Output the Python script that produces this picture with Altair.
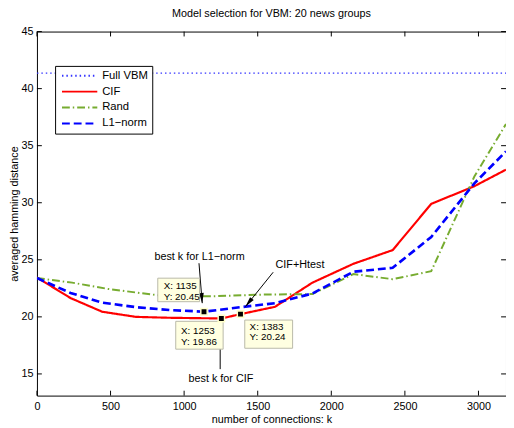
import math
import altair as alt
import pandas as pd

FONT = "Liberation Sans"

# ---------------- data ----------------
series_names = ["Full VBM", "CIF", "Rand", "L1−norm"]

vbm_k = [0, 3187]
vbm_d = [41.36, 41.36]

cif_k = [0, 228, 443, 672, 900, 1135, 1253, 1383, 1617, 1872, 2150, 2417, 2679, 2972, 3187]
cif_d = [23.45, 21.65, 20.45, 20.0, 19.92, 19.88, 19.86, 20.24, 20.88, 23.0, 24.65, 25.85, 29.9, 31.45, 32.9]

rand_k = [0, 239, 483, 817, 1183, 1528, 1872, 2150, 2417, 2679, 2972, 3187]
rand_d = [23.4, 23.0, 22.45, 21.9, 21.8, 21.95, 22.0, 23.75, 23.3, 24.0, 32.3, 36.9]

l1_k = [0, 228, 443, 672, 900, 1135, 1383, 1617, 1872, 2150, 2417, 2679, 2972, 3187]
l1_d = [23.4, 22.1, 21.25, 20.85, 20.6, 20.45, 20.85, 21.2, 22.05, 23.95, 24.3, 27.0, 31.7, 34.5]

x_ticks = [0, 500, 1000, 1500, 2000, 2500, 3000]
y_ticks = [15, 20, 25, 30, 35, 40, 45]

# data tips (selected points)
tip_k = [1135, 1253, 1383]
tip_d = [20.45, 19.86, 20.24]
tip_line1 = ["X: 1135", "X: 1253", "X: 1383"]
tip_line2 = ["Y: 20.45", "Y: 19.86", "Y: 20.24"]

# annotation placement (data units)
box_k1 = [821, 943, 1412]
box_k2 = [1105, 1265, 1737]
box_d1 = [23.39, 19.61, 19.72]
box_d2 = [21.33, 17.17, 17.25]
boxtext_k = [861, 979, 1445]
boxtext_d1 = [22.67, 18.75, 19.09]
boxtext_d2 = [21.76, 17.80, 18.23]

ann_text = ["best k for L1−norm", "best k for CIF", "CIF+Htest"]
ann_k = [1105, 1250, 1787]
ann_d = [25.2, 14.56, 24.5]
arrow_k_from = [1101, 1245, 1605]
arrow_d_from = [24.7, 15.42, 23.91]
arrow_k_to = [1123, 1245, 1417]
arrow_d_to = [21.2, 19.3, 20.9]

# ---------------- layout ----------------
W, H = 478, 371
XMAX = 3187
YMIN, YMAX = 13.1, 45

colors = ["#3333ff", "#ff0000", "#77ac30", "#0000ff"]
dashes = [[1.5, 3], [1, 0], [8, 3, 1.5, 3], [8, 4]]
widths = {"Full VBM": 1.2, "CIF": 2.2, "Rand": 2.0, "L1−norm": 2.7}

rows = []
for name, ks, ds in [("Full VBM", vbm_k, vbm_d), ("CIF", cif_k, cif_d),
                     ("Rand", rand_k, rand_d), ("L1−norm", l1_k, l1_d)]:
    for i, (k, d) in enumerate(zip(ks, ds)):
        rows.append({"series": name, "k": k, "d": d, "idx": i, "w": widths[name]})
df = pd.DataFrame(rows)

xs = alt.Scale(domain=[0, XMAX], nice=False, zero=False)
ys = alt.Scale(domain=[YMIN, YMAX], nice=False, zero=False)

xaxis = alt.Axis(values=x_ticks, format="d", ticks=False, domain=False, grid=False,
                 labelPadding=5, titlePadding=2, labelFlush=False,
                 titleFontWeight="normal")
yaxis = alt.Axis(values=y_ticks, format="d", ticks=False, domain=False, grid=False,
                 labelPadding=4, titlePadding=2, labelFlush=False,
                 titleFontWeight="normal")

X = alt.X("k:Q", scale=xs, axis=xaxis, title="number of connections: k")
Y = alt.Y("d:Q", scale=ys, axis=yaxis, title="averaged hamming distance")

leg = alt.Legend(title=None, orient="none", legendX=18.5, legendY=35,
                 fillColor="white", strokeColor="black", padding=4,
                 symbolType="stroke", symbolSize=1296, clipHeight=12,
                 rowPadding=4.2, symbolOffset=2, labelOffset=4,
                 symbolStrokeWidth=2,
                 labelFont=FONT, labelFontSize=11.5, labelColor="black")

lines = alt.Chart(df).mark_line(clip=True, strokeCap="butt").encode(
    x=X, y=Y,
    color=alt.Color("series:N", scale=alt.Scale(domain=series_names, range=colors), legend=leg),
    strokeDash=alt.StrokeDash("series:N", scale=alt.Scale(domain=series_names, range=dashes), legend=leg),
    strokeWidth=alt.StrokeWidth("w:Q", scale=None, legend=None),
    order="idx:Q",
)

# inward tick marks (box on)
xt = pd.DataFrame({"k": x_ticks})
yt = pd.DataFrame({"d": y_ticks})
tick_bottom = alt.Chart(xt).mark_rule(color="black", strokeWidth=1).encode(
    x=X, y=alt.value(H), y2=alt.value(H - 5))
tick_top = alt.Chart(xt).mark_rule(color="black", strokeWidth=1).encode(
    x=X, y=alt.value(0), y2=alt.value(5))
tick_left = alt.Chart(yt).mark_rule(color="black", strokeWidth=1).encode(
    y=Y, x=alt.value(0), x2=alt.value(5))
tick_right = alt.Chart(yt).mark_rule(color="black", strokeWidth=1).encode(
    y=Y, x=alt.value(W), x2=alt.value(W - 5))

# data-tip boxes
boxes_df = pd.DataFrame({"k": box_k1, "k2": box_k2, "d": box_d1, "d2": box_d2})
boxes = alt.Chart(boxes_df).mark_rect(fill="#ffffe1", stroke="#b9b9a8", strokeWidth=1).encode(
    x=X, x2="k2:Q", y=Y, y2="d2:Q")

bt_rows = []
for i in range(3):
    bt_rows.append({"k": boxtext_k[i], "d": boxtext_d1[i], "t": tip_line1[i]})
    bt_rows.append({"k": boxtext_k[i], "d": boxtext_d2[i], "t": tip_line2[i]})
boxtext = alt.Chart(pd.DataFrame(bt_rows)).mark_text(
    align="left", baseline="middle", font=FONT, fontSize=10, color="black").encode(
    x=X, y=Y, text="t:N")

markers = alt.Chart(pd.DataFrame({"k": tip_k, "d": tip_d})).mark_point(
    shape="square", filled=True, size=42, fill="black", stroke="#ffffc8",
    strokeWidth=1.5, opacity=1).encode(x=X, y=Y)

# arrows
px_per_k = W / XMAX
px_per_d = H / (YMAX - YMIN)
angs = []
for i in range(3):
    dx = (arrow_k_to[i] - arrow_k_from[i]) * px_per_k
    dy = -(arrow_d_to[i] - arrow_d_from[i]) * px_per_d  # screen y (down)
    angs.append(math.degrees(math.atan2(dx, -dy)) % 360)

arr_df = pd.DataFrame({"k": arrow_k_from, "d": arrow_d_from,
                       "k2": arrow_k_to, "d2": arrow_d_to, "ang": angs})
shafts = alt.Chart(arr_df).mark_rule(color="black", strokeWidth=1).encode(
    x=X, y=Y, x2="k2:Q", y2="d2:Q")
heads = alt.Chart(pd.DataFrame({"k": arrow_k_to, "d": arrow_d_to, "ang": angs})).mark_point(
    shape="M0,0L-0.6,2.6L0.6,2.6Z", filled=True, color="black", size=64, opacity=1).encode(
    x=X, y=Y, angle=alt.Angle("ang:Q", scale=None))

ann = alt.Chart(pd.DataFrame({"k": ann_k, "d": ann_d, "t": ann_text})).mark_text(
    align="center", baseline="middle", font=FONT, fontSize=11, color="black").encode(
    x=X, y=Y, text="t:N")

chart = alt.layer(
    lines, tick_bottom, tick_top, tick_left, tick_right,
    shafts, heads, boxes, boxtext, markers, ann
).properties(
    width=W, height=H,
    title=alt.Title("Model selection for VBM: 20 news groups", font=FONT, fontSize=11,
                    fontWeight="normal", color="black", anchor="middle", offset=7),
    autosize=alt.AutoSizeParams(type="none"),
    padding={"left": 29.5, "top": 20, "right": 0, "bottom": 29},
    background="white",
).configure_view(
    stroke="black", strokeWidth=1
).configure_axis(
    labelFont=FONT, labelFontSize=11, labelColor="black",
    titleFont=FONT, titleFontSize=11, titleFontWeight="normal", titleColor="black"
)

chart.save("out.html", embed_options={"renderer": "svg", "actions": False})
